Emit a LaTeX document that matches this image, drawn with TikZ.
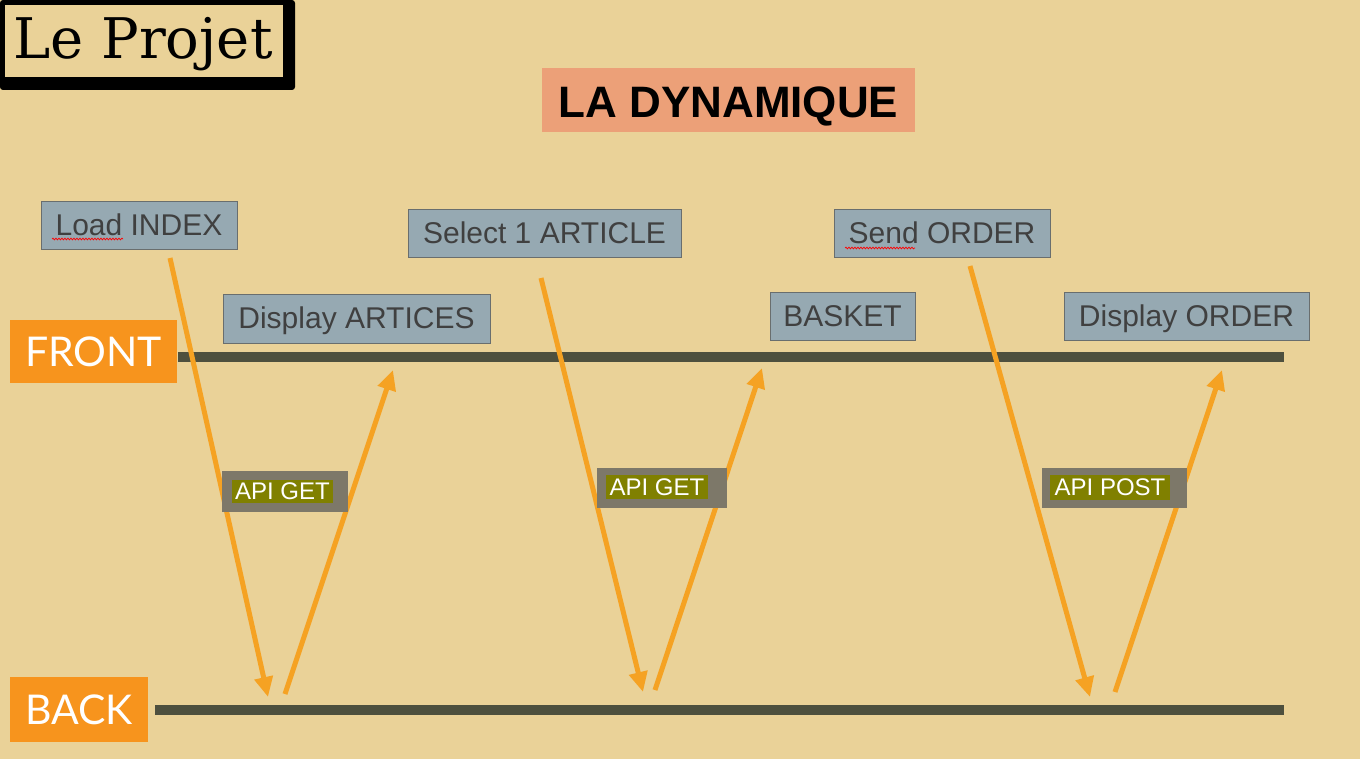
\documentclass[tikz,border=0pt]{standalone}
\usepackage{fontspec}
\newfontfamily\arial{Liberation Sans}
\newfontfamily\gill{Lato}
\newfontfamily\titleserif{DejaVu Serif}
\usetikzlibrary{arrows.meta,decorations.pathmorphing}
\definecolor{bg}{RGB}{234,210,152}
\definecolor{boxfill}{RGB}{150,169,178}
\definecolor{boxborder}{RGB}{105,110,110}
\definecolor{boxtext}{RGB}{64,64,64}
\definecolor{orangelab}{RGB}{247,148,29}
\definecolor{linecol}{RGB}{78,80,62}
\definecolor{arrowcol}{RGB}{245,162,35}
\definecolor{apigray}{RGB}{125,120,105}
\definecolor{apiolive}{RGB}{128,128,0}
\definecolor{salmon}{RGB}{236,160,120}
\begin{document}
\begin{tikzpicture}[x=1pt,y=-1pt,
  stepbox/.style={draw=boxborder, line width=1pt, fill=boxfill, text=boxtext,
    font=\arial\fontsize{30}{34}\selectfont, inner sep=0pt, text height=22pt, text depth=2pt},
  sidelab/.style={fill=orangelab, text=white, font=\gill\fontsize{41}{44}\selectfont, inner sep=0pt},
  apiouter/.style={fill=apigray, inner sep=0pt},
  apiinner/.style={fill=apiolive, text=white, font=\arial\fontsize{24}{27}\selectfont, inner sep=0pt},
  flow/.style={draw=arrowcol, line width=5pt, -{Triangle[length=20pt,width=18pt]}},
  timeline/.style={draw=linecol, line width=10pt},
  squig/.style={draw=red, line width=0.7pt, decorate, decoration={snake, amplitude=0.9pt, segment length=3pt}}
]
\fill[bg] (0,0) rectangle (1360,759);
\useasboundingbox (0,0) rectangle (1360,759);

% title frame
\fill[black, rounded corners=3pt] (0,0) rectangle (295,90);
\fill[bg] (5,5) rectangle (283,77);
\node[font=\titleserif\fontsize{56}{60}\selectfont, inner sep=0pt] (projet) at (143,44) {Le Projet};

% main title
\fill[salmon] (542,68) rectangle (915,132);
\node[font=\arial\bfseries\fontsize{44}{48}\selectfont, inner sep=0pt] (dyn) at (728.5,106) {LA DYNAMIQUE};

% timelines
\coordinate (frontL) at (178,357);
\coordinate (frontR) at (1284,357);
\coordinate (backL) at (155,710);
\coordinate (backR) at (1284,710);
\draw[timeline] (frontL) -- (frontR);
\draw[timeline] (backL) -- (backR);

\node[sidelab, minimum width=167pt, minimum height=63pt] (front) at (93.5,351.5) {FRONT};
\node[sidelab, minimum width=138pt, minimum height=65pt] (back) at (79,709.5) {BACK};

% step boxes
\node[stepbox, minimum width=196pt, minimum height=48pt] (load) at (139,226) {Load INDEX};
\node[stepbox, minimum width=273pt, minimum height=48pt] (select) at (544.5,234) {Select 1 ARTICLE};
\node[stepbox, minimum width=216pt, minimum height=48pt] (send) at (942,234) {Send ORDER};
\node[stepbox, minimum width=267pt, minimum height=48pt] (disp) at (356.5,319) {Display ARTICES};
\node[stepbox, minimum width=145pt, minimum height=47pt] (basket) at (842.5,316.5) {BASKET};
\node[stepbox, minimum width=245pt, minimum height=47pt] (dispo) at (1186.5,316.5) {Display ORDER};

% spell-check squiggles
\coordinate (sqA1) at (52,239); \coordinate (sqA2) at (123,239);
\coordinate (sqB1) at (845,248); \coordinate (sqB2) at (915,248);
\draw[squig] (sqA1) -- (sqA2);
\draw[squig] (sqB1) -- (sqB2);

% arrows
\coordinate (a1s) at (170,258); \coordinate (a1e) at (268,697);
\coordinate (a2s) at (285,694); \coordinate (a2e) at (393,370);
\coordinate (a3s) at (541,278); \coordinate (a3e) at (643,692);
\coordinate (a4s) at (655,690); \coordinate (a4e) at (762,368);
\coordinate (a5s) at (970,266); \coordinate (a5e) at (1090,697);
\coordinate (a6s) at (1115,692); \coordinate (a6e) at (1222,370);
\draw[flow] (a1s) -- (a1e);
\draw[flow] (a2s) -- (a2e);
\draw[flow] (a3s) -- (a3e);
\draw[flow] (a4s) -- (a4e);
\draw[flow] (a5s) -- (a5e);
\draw[flow] (a6s) -- (a6e);

% API labels
\node[apiouter, minimum width=126pt, minimum height=41pt] (api1o) at (285,491.5) {};
\node[apiinner, minimum width=101pt, minimum height=23pt] (api1) at (282.5,491.5) {API GET};
\node[apiouter, minimum width=130pt, minimum height=40pt] (api2o) at (662,488) {};
\node[apiinner, minimum width=102pt, minimum height=24pt] (api2) at (657,487) {API GET};
\node[apiouter, minimum width=145pt, minimum height=40pt] (api3o) at (1114.5,488) {};
\node[apiinner, minimum width=120pt, minimum height=25pt] (api3) at (1110,487.5) {API POST};
\end{tikzpicture}
\end{document}
